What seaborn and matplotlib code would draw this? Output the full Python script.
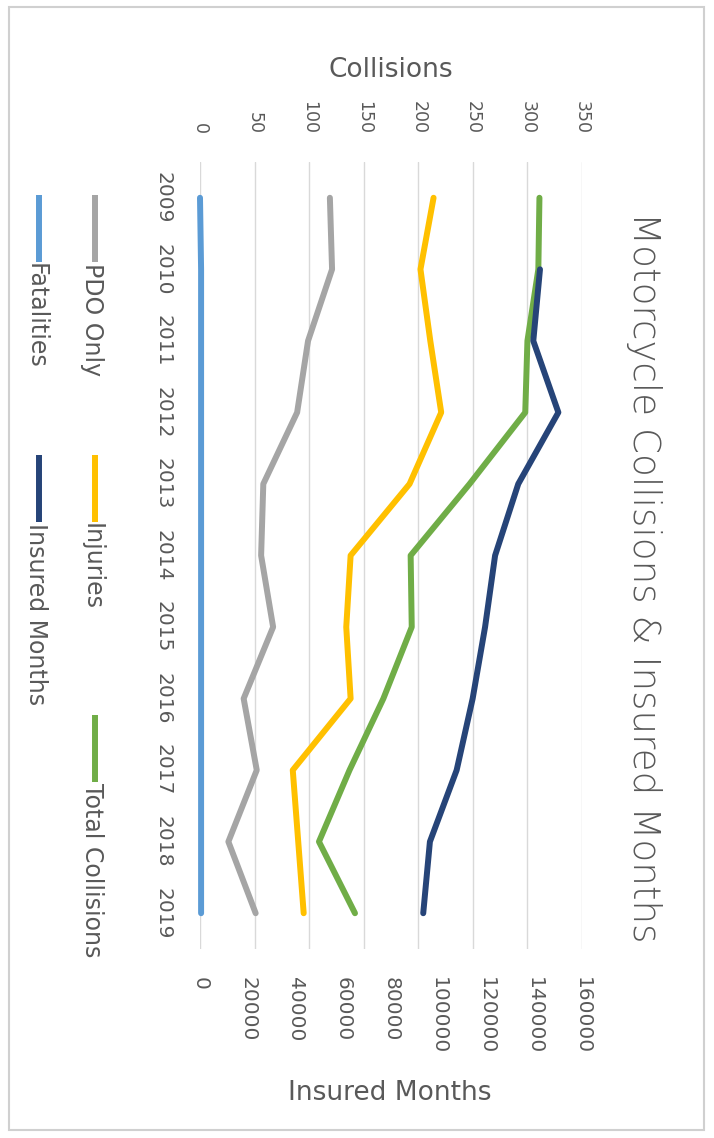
import numpy as np
import pandas as pd
import matplotlib
matplotlib.use("Agg")
import matplotlib.pyplot as plt
from matplotlib.lines import Line2D
from matplotlib.patches import Rectangle
import seaborn as sns

# ---- data -------------------------------------------------------------
years = [2009, 2010, 2011, 2012, 2013, 2014, 2015, 2016, 2017, 2018, 2019]
fatalities = [0, 1, 1, 1, 1, 1, 1, 1, 1, 1, 1]
pdo_only = [119, 121, 99, 89, 58, 56, 67, 40, 52, 26, 51]
injuries = [214, 202, 211, 221, 192, 138, 134, 138, 85, 90, 95]
total_collisions = [311, 310, 300, 298, 247, 193, 194, 168, 137, 109, 142]
insured_years = [2010, 2011, 2012, 2013, 2014, 2015, 2016, 2017, 2018, 2019]
insured_months = [142400, 139600, 150100, 133300, 123600, 119400, 114200,
                  107500, 96300, 93500]

collision_ticks = [0, 50, 100, 150, 200, 250, 300, 350]
insured_ticks = [0, 20000, 40000, 60000, 80000, 100000, 120000, 140000, 160000]

title = "Motorcycle Collisions & Insured Months"
collisions_label = "Collisions"
insured_label = "Insured Months"

colors = {
    "Fatalities": "#5B9BD5",
    "PDO Only": "#A5A5A5",
    "Injuries": "#FFC000",
    "Total Collisions": "#70AD47",
    "Insured Months": "#264478",
}

collisions_df = pd.DataFrame({
    "Year": years,
    "Fatalities": fatalities,
    "PDO Only": pdo_only,
    "Injuries": injuries,
    "Total Collisions": total_collisions,
})
insured_df = pd.DataFrame({"Year": insured_years, "Insured Months": insured_months})

# ---- figure -------------------------------------------------------------
sns.set_style("white")
plt.rcParams["font.family"] = ["DejaVu Sans"]
TXT = "#595959"
GRID = "#D9D9D9"

W, H = 714, 1138
fig = plt.figure(figsize=(W / 100, H / 100), dpi=100)
fig.patch.set_facecolor("white")


def fx(px):
    return px / W


def fy(py):
    return 1 - py / H


# chart is laid out sideways: years run down, values run across
left, right, top, bottom = 200, 582, 162, 949
ax = fig.add_axes([fx(left), fy(bottom), fx(right - left), (bottom - top) / H])
ax2 = ax.twiny()

LW = 4.3
line_kw = dict(solid_capstyle="round", solid_joinstyle="round", clip_on=False)

for name in ["Fatalities", "PDO Only", "Injuries", "Total Collisions"]:
    sns.lineplot(data=collisions_df, x=name, y="Year", orient="y", sort=False,
                 estimator=None, ax=ax, color=colors[name], linewidth=LW,
                 legend=False, **line_kw)

sns.lineplot(data=insured_df, x="Insured Months", y="Year", orient="y",
             sort=False, estimator=None, ax=ax2, color=colors["Insured Months"],
             linewidth=LW, legend=False, **line_kw)

# collisions scale (top)
ax.set_xlim(collision_ticks[0], collision_ticks[-1])
ax.set_xticks(collision_ticks)
ax.set_xticklabels([str(t) for t in collision_ticks], rotation=270,
                   fontsize=12.5, color=TXT, va="bottom")
ax.xaxis.tick_top()
ax.tick_params(axis="x", length=0, pad=20)
ax.set_xlabel("")
ax.grid(axis="x", color=GRID, linewidth=1.0)
ax.grid(axis="y", visible=False)

# years (left)
ax.set_ylim(years[-1] + 0.5, years[0] - 0.5)
ax.set_yticks(years)
ax.set_yticklabels([str(y) for y in years], rotation=270, fontsize=14.5,
                   color=TXT, va="center")
ax.tick_params(axis="y", length=0, pad=20)
ax.set_ylabel("")

# insured months scale (bottom)
ax2.set_xlim(insured_ticks[0], insured_ticks[-1])
ax2.set_xticks(insured_ticks)
ax2.set_xticklabels([str(t) for t in insured_ticks], rotation=270,
                    fontsize=14.5, color=TXT, va="top")
ax2.xaxis.tick_bottom()
ax2.tick_params(axis="x", length=0, pad=20)
ax2.set_xlabel("")
ax2.set_ylabel("")
ax2.grid(False)

for a in (ax, ax2):
    for s in a.spines.values():
        s.set_visible(False)

# titles
fig.text(fx(644), fy(577), title, rotation=270, ha="center", va="center",
         fontsize=26.8, color=TXT, fontweight="light")
fig.text(fx(391), fy(70), collisions_label, ha="center", va="center",
         fontsize=19, color=TXT)
fig.text(fx(390), fy(1093), insured_label, ha="center", va="center",
         fontsize=19, color=TXT)

# legend, two rows turned sideways
legend_items = [
    ("PDO Only", 95, 195),
    ("Injuries", 95, 455),
    ("Total Collisions", 95, 715),
    ("Fatalities", 39, 195),
    ("Insured Months", 39, 455),
]
handle_len = 67
for name, x0, y0 in legend_items:
    fig.add_artist(Line2D([fx(x0), fx(x0)], [fy(y0), fy(y0 + handle_len)],
                          transform=fig.transFigure, color=colors[name],
                          linewidth=LW, solid_capstyle="butt"))
    fig.text(fx(x0 - 3), fy(y0 + handle_len + 1), name, rotation=270,
             ha="center", va="top", fontsize=17, color=TXT)

# chart border
fig.add_artist(Rectangle((fx(9), fy(1130)), fx(704 - 9), (1130 - 7) / H,
                         transform=fig.transFigure, fill=False,
                         edgecolor="#D0D0D0", linewidth=1.5))

fig.savefig("out.png", dpi=100, facecolor="white")
